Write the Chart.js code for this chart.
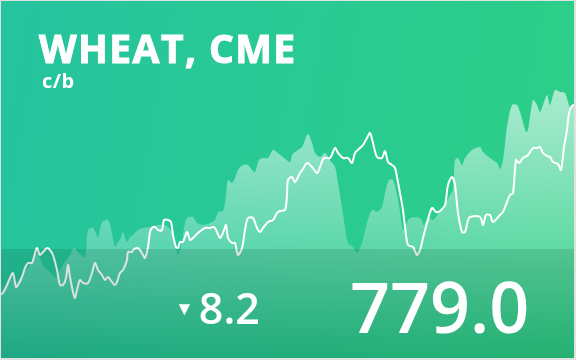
<!DOCTYPE html>
<html>
<head>
<meta charset="utf-8">
<script src="https://cdn.jsdelivr.net/npm/chart.js@4"></script>
<style>
  html, body { margin: 0; padding: 0; }
  body { width: 576px; height: 360px; position: relative; overflow: hidden; background: #dfe2e1; }
  .card {
    position: absolute; left: 1px; top: 1px; width: 573px; height: 357px; overflow: hidden;
    background: linear-gradient(100deg, #25c39f 0%, #29ca93 50%, #2dcf86 100%);
  }
  #chart { position: absolute; left: -1px; top: -1px; }
  .band {
    position: absolute; left: 0; top: 248px; width: 100%; height: 112px;
    background: linear-gradient(to bottom, rgba(0, 50, 25, 0.13), rgba(0, 50, 25, 0.19));
  }
  .txt { position: absolute; color: #fff; font-family: "Open Sans", sans-serif; white-space: nowrap; }
  .title { left: 38px; top: 20px; font-size: 39px; font-weight: 700; letter-spacing: 1.4px; -webkit-text-stroke: 1px #fff; }
  .unit { left: 41px; top: 66px; font-size: 20px; font-weight: 700; letter-spacing: 0.5px; }
  .change { left: 174px; top: 277px; font-size: 43px; font-weight: 600; letter-spacing: 0px; }
  .change span { font-size: 19px; position: relative; top: -9px; margin-right: 5px; }
  .last { left: 349px; top: 257px; font-size: 70px; font-weight: 600; letter-spacing: 0px; }
</style>
</head>
<body>
<div class="card">
  <canvas id="chart" width="576" height="360"></canvas>
  <div class="band"></div>
  <div class="txt title">WHEAT, CME</div>
  <div class="txt unit">c/b</div>
  <div class="txt change"><span>▼</span>8.2</div>
  <div class="txt last">779.0</div>
</div>
<script>
// prix du blé (c/b), séance -> valeur
const lineDays = [0, 3, 7, 10, 13, 16, 18, 22, 25, 28, 32, 35, 37, 40, 43, 47, 50, 53, 57, 60, 63, 66, 68, 70, 73, 75, 77, 80, 83, 88, 92, 95, 98, 102, 105, 108, 112, 115, 117,
  120, 123, 127, 128, 132, 133, 137, 140, 143, 145, 148, 150, 152, 155, 158, 162, 164, 168, 171, 173, 176, 178, 180, 183, 187, 190, 193, 198, 205, 210, 214, 217, 220, 223, 226, 228,
  232, 235, 238, 242, 245, 248, 253, 257, 260, 263, 268, 273, 277, 280, 285, 287, 288, 292, 295, 300, 303, 307, 312, 317, 320, 324, 330,
  335, 338, 343, 348, 352, 355, 360, 363, 367, 370, 373, 377, 382, 385, 388, 392, 395, 397, 400, 403, 405, 408, 413, 417, 420, 423, 427, 432, 436, 440,
  445, 448, 452, 455, 458, 462, 465, 468, 470, 480, 483, 486, 490, 493, 500, 503, 507, 510, 513, 516, 519, 523, 528, 533, 537, 540, 543, 547, 550, 553, 558, 561, 564, 567, 569, 572, 574];
const linePrice = [589, 591, 599, 606, 611, 597, 599, 607, 616, 621, 621, 631, 636, 629, 632, 636, 634, 629, 614, 599, 599, 606, 619, 607, 592, 586, 594, 604, 601, 601, 611, 621, 614, 609, 604, 607, 602, 599, 602,
  611, 614, 624, 632, 632, 634, 636, 634, 629, 626, 637, 652, 656, 657, 654, 654, 664, 664, 662, 649, 637, 636, 642, 642, 652, 644, 646, 651, 656, 656, 657, 652, 646, 651, 659, 646,
  641, 641, 629, 636, 654, 666, 666, 656, 652, 656, 662, 664, 671, 673, 674, 689, 704, 707, 702, 711, 715, 721, 717, 711, 717, 726, 726,
  736, 731, 726, 726, 721, 731, 736, 739, 746, 751, 741, 727, 726, 733, 722, 719, 716, 707, 691, 674, 657, 639, 637, 629, 634, 646, 661, 676, 672, 673,
  679, 699, 707, 699, 671, 652, 652, 664, 667, 667, 659, 669, 669, 662, 669, 672, 682, 689, 691, 724, 721, 726, 729, 736, 736, 737, 731, 728, 727, 722, 720, 714, 737, 754, 771, 778, 779];

// série de fond (zone claire)
const areaDays = [0, 6, 11, 16, 22, 27, 31, 37, 44, 50, 55, 60, 64, 70, 74, 79, 85, 88, 93, 98, 102, 108, 112, 115, 118,
  120, 123, 127, 130, 133, 138, 143, 150, 158, 165, 168, 172, 175, 178, 182, 185, 187, 193, 197, 203, 210, 215, 218, 223, 226, 228,
  232, 235, 238, 243, 248, 252, 255, 259, 263, 268, 273, 278, 283, 290, 292, 295, 302, 305, 308, 312, 315, 320, 325, 330,
  335, 338, 342, 345, 348, 353, 357, 362, 367, 372, 377, 382, 385, 389, 393, 397, 400, 403, 406, 410, 420, 424, 428, 433, 438, 445, 450,
  453, 455, 458, 462, 465, 472, 480, 483, 490, 497, 500, 503, 507, 512, 517, 520, 527, 533, 537, 540, 547, 550, 555, 560, 565, 570, 574];
const areaValue = [592, 599, 607, 602, 609, 616, 621, 631, 617, 612, 607, 614, 621, 629, 636, 631, 627, 654, 656, 647, 662, 664, 651, 637, 642,
  644, 652, 642, 647, 649, 654, 656, 657, 659, 659, 657, 652, 642, 629, 644, 661, 666, 667, 661, 659, 661, 664, 672, 673, 689, 704,
  701, 706, 714, 719, 719, 714, 712, 724, 726, 726, 734, 731, 727, 722, 729, 732, 737, 744, 750, 741, 731, 727, 731, 724,
  717, 701, 677, 657, 641, 637, 631, 641, 661, 674, 672, 677, 691, 704, 704, 689, 672, 654, 659, 666, 666, 659, 667, 664, 670, 679, 689,
  694, 724, 726, 719, 726, 734, 737, 732, 726, 721, 715, 724, 757, 779, 779, 772, 752, 784, 779, 772, 789, 779, 794, 792, 791, 777, 779];

const toPoints = (xs, ys) => xs.map((x, i) => ({ x: x, y: ys[i] }));

function areaGradient(context) {
    const chart = context.chart;
    const area = chart.chartArea;
    if (!area) return 'rgba(255,255,255,0.3)';
    const g = chart.ctx.createLinearGradient(0, area.top, 0, area.bottom);
    g.addColorStop(0, 'rgba(255,255,255,0.8)');
    g.addColorStop(1, 'rgba(255,255,255,0.0)');
    return g;
}

new Chart(document.getElementById('chart'), {
    type: 'line',
    data: {
        datasets: [{
            label: 'Wheat',
            data: toPoints(lineDays, linePrice),
            borderColor: '#ffffff',
            borderWidth: 2,
            tension: 0.3,
            fill: false,
            order: 0
        }, {
            label: 'Fond',
            data: toPoints(areaDays, areaValue),
            borderWidth: 0,
            borderColor: 'rgba(0,0,0,0)',
            backgroundColor: areaGradient,
            tension: 0.3,
            fill: 'start',
            order: 1
        }]
    },
    options: {
        responsive: false,
        animation: false,
        devicePixelRatio: 1,
        layout: { padding: 0 },
        elements: { point: { radius: 0 } },
        plugins: { legend: { display: false }, tooltip: { enabled: false } },
        scales: {
            x: { type: 'linear', min: 0, max: 576, display: false },
            y: { min: 524, max: 884, display: false }
        }
    }
});
</script>
</body>
</html>
